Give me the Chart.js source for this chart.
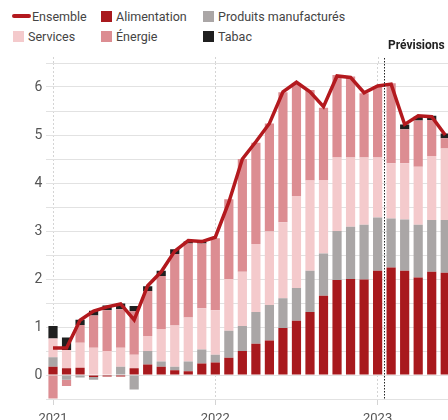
<!DOCTYPE html>
<html lang="fr">
<head>
<meta charset="utf-8">
<script src="https://cdn.jsdelivr.net/npm/chart.js@4"></script>
<style>
  html, body { margin: 0; padding: 0; background: #fff; overflow: hidden; }
  body { width: 448px; height: 420px; position: relative; font-family: Roboto, "Noto Sans", sans-serif; }
  #chart { position: absolute; left: 0; top: 0; }
  #legend {
    position: absolute; left: 12px; top: 6px;
    display: grid; grid-template-columns: 88px 102px auto; grid-auto-rows: 20px;
    font-size: 12.5px; color: #444;
  }
  #legend .item { display: flex; align-items: center; white-space: nowrap; }
  #legend .box { width: 11px; height: 11px; margin: 0 4px 0 1px; }
  #legend .line { width: 19px; height: 3.5px; border-radius: 2px; margin-right: 1px; }
</style>
</head>
<body>
<div id="legend"></div>
<canvas id="chart" width="452" height="420"></canvas>
<script>
// mois de janv. 2021 a juin 2023
const months = [
  '2021-01','2021-02','2021-03','2021-04','2021-05','2021-06','2021-07','2021-08','2021-09','2021-10','2021-11','2021-12',
  '2022-01','2022-02','2022-03','2022-04','2022-05','2022-06','2022-07','2022-08','2022-09','2022-10','2022-11','2022-12',
  '2023-01','2023-02','2023-03','2023-04','2023-05','2023-06'
];

// contributions a l'inflation (points)
const alimentation = [0.17, 0.14, 0.15, -0.04, -0.03, -0.03, 0.14, 0.22, 0.17, 0.10, 0.08, 0.24, 0.26, 0.36, 0.50, 0.65, 0.72, 0.98, 1.13, 1.31, 1.65, 1.98, 2.00, 1.99, 2.17, 2.24, 2.17, 2.03, 2.15, 2.13];
const produits = [0.20, -0.10, -0.05, -0.06, 0, 0.17, -0.30, 0.28, 0.11, 0.07, 0.20, 0.29, 0.16, 0.56, 0.52, 0.66, 0.74, 0.62, 0.68, 0.86, 0.88, 1.02, 1.09, 1.14, 1.11, 1.02, 1.07, 1.10, 1.08, 1.10];
const services = [0.39, 0.38, 0.52, 0.57, 0.50, 0.40, 0.28, 0.31, 0.68, 0.86, 0.92, 0.86, 0.93, 1.08, 1.13, 1.42, 1.53, 1.58, 1.92, 1.88, 1.53, 1.53, 1.44, 1.40, 1.25, 1.15, 1.17, 1.21, 1.33, 1.49];
const energie = [-0.49, -0.13, 0.37, 0.67, 0.85, 0.80, 0.91, 0.94, 1.10, 1.49, 1.54, 1.35, 1.50, 1.66, 2.35, 2.11, 2.25, 2.71, 2.35, 1.89, 1.51, 1.72, 1.69, 1.34, 1.49, 1.67, 0.71, 0.96, 0.75, 0.21];
const tabac = [0.26, 0.26, 0.11, 0.10, 0.10, 0.12, 0.11, 0.10, 0.11, 0.10, 0.04, 0.03, 0, 0, 0, 0, 0, 0, 0, 0, 0, 0, 0, 0, 0, 0, 0.10, 0.08, 0.09, 0.10];
const ensemble = [0.56, 0.56, 1.14, 1.33, 1.42, 1.48, 1.15, 1.86, 2.15, 2.58, 2.80, 2.78, 2.87, 3.60, 4.50, 4.86, 5.24, 5.90, 6.10, 5.90, 5.59, 6.23, 6.20, 5.88, 6.02, 6.06, 5.22, 5.40, 5.38, 5.00];

const forecastStart = 24.5; // entre janv. et fevr. 2023
const forecastLabel = 'Prévisions';

const colors = {
  ensemble: '#b3191e',
  alimentation: '#a8191d',
  produits: '#aaa6a6',
  services: '#f4cacc',
  energie: '#dc8d92',
  tabac: '#1f1f1f'
};

function bar(label, data, color) {
  return { type: 'bar', label, data, backgroundColor: color, order: 1,
           barPercentage: 0.68, categoryPercentage: 1 };
}

// ligne pointillee "Prévisions" + prolongement des reperes d'annees
const forecastPlugin = {
  id: 'forecast',
  beforeDatasetsDraw(chart) {
    const { ctx, chartArea, scales: { x } } = chart;
    ctx.save();
    ctx.strokeStyle = '#d4d4d4';
    ctx.lineWidth = 1;
    ctx.setLineDash([2, 2]);
    months.forEach((m, i) => {
      if (!m.endsWith('-01')) return;
      const px = Math.round(x.getPixelForValue(i)) + 0.5;
      ctx.beginPath();
      ctx.moveTo(px, 57);
      ctx.lineTo(px, chartArea.top);
      ctx.stroke();
    });
    ctx.restore();
  },
  afterDatasetsDraw(chart) {
    const { ctx, scales: { x } } = chart;
    const px = Math.round(x.getPixelForValue(forecastStart)) + 0.5;
    ctx.save();
    ctx.strokeStyle = '#222';
    ctx.lineWidth = 1;
    ctx.setLineDash([1.5, 1.5]);
    ctx.beginPath();
    ctx.moveTo(px, 58);
    ctx.lineTo(px, 400);
    ctx.stroke();
    ctx.setLineDash([]);
    ctx.fillStyle = '#222';
    ctx.font = 'bold 12px Roboto, sans-serif';
    ctx.textBaseline = 'middle';
    ctx.textAlign = 'left';
    ctx.fillText(forecastLabel, px + 3.5, 46);
    ctx.restore();
  }
};

const chart = new Chart(document.getElementById('chart'), {
  type: 'bar',
  data: {
    labels: months,
    datasets: [
      { type: 'line', label: 'Ensemble', data: ensemble, borderColor: colors.ensemble,
        backgroundColor: colors.ensemble, borderWidth: 3.5, pointRadius: 0, tension: 0,
        stack: 'ensemble', order: 0 },
      bar('Alimentation', alimentation, colors.alimentation),
      bar('Produits manufacturés', produits, colors.produits),
      bar('Services', services, colors.services),
      bar('Énergie', energie, colors.energie),
      bar('Tabac', tabac, colors.tabac)
    ]
  },
  options: {
    responsive: false,
    animation: false,
    layout: { padding: { top: 63, left: 0, right: 0, bottom: 0 } },
    plugins: { legend: { display: false }, tooltip: { enabled: false } },
    scales: {
      x: {
        stacked: true,
        offset: true,
        border: { display: false, dash: [2, 2] },
        grid: {
          offset: false,
          drawOnChartArea: true,
          tickLength: 6,
          color: ctx => months[ctx.index] && months[ctx.index].endsWith('-01') ? '#d4d4d4' : 'rgba(0,0,0,0)'
        },
        ticks: {
          autoSkip: false, maxRotation: 0, padding: 6,
          color: '#555', font: { family: 'Roboto', size: 13 },
          callback: (v, i) => months[i].endsWith('-01') ? months[i].slice(0, 4) : ''
        },
        afterFit: s => { s.height = 21; }
      },
      y: {
        stacked: true,
        min: -0.5,
        max: 6.5,
        border: { display: false },
        grid: { color: '#e2e2e2', drawTicks: false },
        ticks: {
          stepSize: 0.5, padding: 4,
          color: '#555', font: { family: 'Roboto', size: 14 },
          callback: v => Number.isInteger(v) ? v : ''
        },
        afterFit: s => { s.width = 46.25; }
      }
    }
  },
  plugins: [forecastPlugin]
});

// legende HTML, dans l'ordre ligne par ligne
const legend = document.getElementById('legend');
chart.data.datasets.forEach(ds => {
  const item = document.createElement('div');
  item.className = 'item';
  const mark = document.createElement('span');
  mark.className = ds.type === 'line' ? 'line' : 'box';
  mark.style.background = ds.type === 'line' ? ds.borderColor : ds.backgroundColor;
  item.appendChild(mark);
  item.appendChild(document.createTextNode(ds.label));
  legend.appendChild(item);
});
</script>
</body>
</html>
